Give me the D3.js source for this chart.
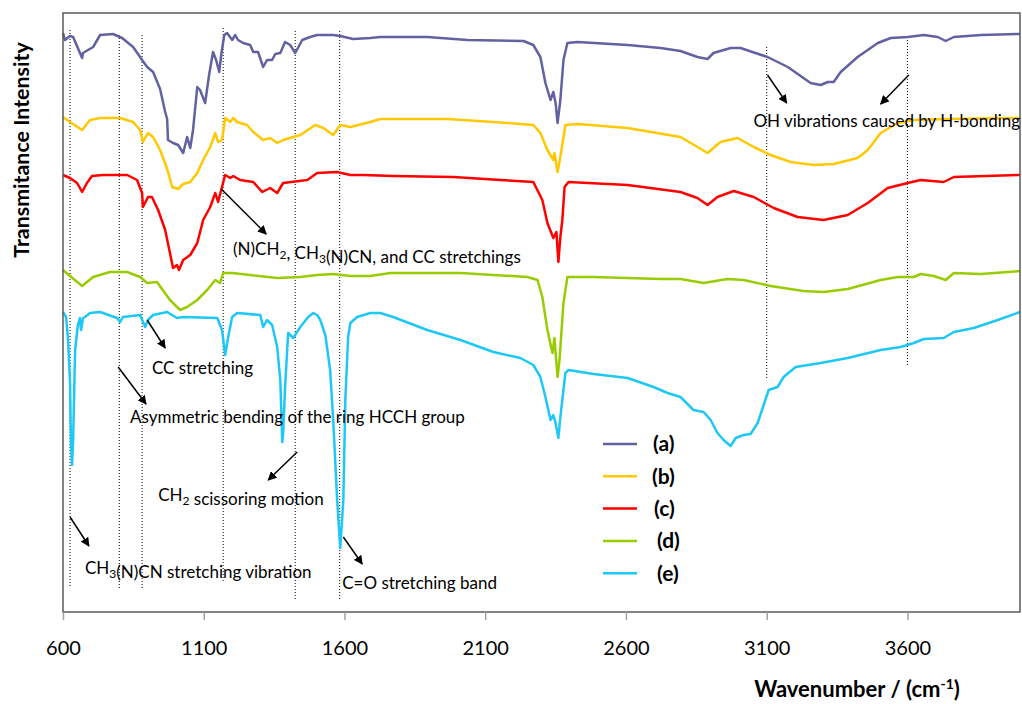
<!DOCTYPE html>
<html>
<head>
<meta charset="utf-8">
<title>FTIR spectra</title>
<style>
  body { margin: 0; background: #fff; }
  svg text { font-family: Lato, "Open Sans", sans-serif; fill: #000; }
</style>
</head>
<body>
<div id="chart"></div>
<script src="https://d3js.org/d3.v7.min.js"></script>
<script>
// spectra: [wavenumber (cm-1), transmittance (a.u., curves offset)]
const specA = [[600,579],[607,572],[625,576],[636,575],[668,554],[671,559],[707,565],[732,577],[778,578],[810,574],[849,565],[874,555],[881,552],[899,545],[920,540],[945,523],[963,500],[970,493],[973,472],[991,469],[1009,467],[1027,459],[1041,475],[1052,464],[1062,482],[1077,525],[1087,522],[1105,509],[1119,537],[1133,560],[1144,552],[1155,540],[1162,557],[1173,577],[1183,579],[1201,572],[1212,577],[1222,572],[1240,569],[1265,567],[1276,560],[1293,560],[1311,545],[1325,552],[1343,552],[1354,558],[1372,559],[1389,570],[1407,567],[1425,559],[1450,572],[1478,575],[1503,577],[1560,577],[1585,576],[1631,573],[1692,574],[1727,575],[1894,575],[2037,572],[2236,571],[2271,567],[2296,555],[2314,529],[2332,512],[2342,520],[2350,509],[2357,489],[2367,512],[2378,552],[2392,569],[2428,570],[2606,567],[2723,564],[2794,561],[2854,555],[2890,553],[2911,559],[2972,564],[3007,564],[3103,555],[3175,545],[3256,529],[3292,527],[3317,530],[3338,530],[3363,540],[3423,555],[3495,569],[3541,574],[3601,575],[3658,577],[3708,575],[3736,571],[3765,575],[3861,577],[4000,578]];

const specB = [[600,495],[625,490],[668,482],[696,492],[732,494],[803,494],[849,490],[874,482],[884,470],[902,479],[920,475],[945,462],[970,443],[988,425],[1009,423],[1027,428],[1052,430],[1077,439],[1098,452],[1123,465],[1141,479],[1151,470],[1165,472],[1176,494],[1194,490],[1205,494],[1219,490],[1254,487],[1276,480],[1311,472],[1336,474],[1361,469],[1382,472],[1443,477],[1496,487],[1525,484],[1560,477],[1585,487],[1621,485],[1692,490],[1727,493],[1966,493],[2129,490],[2271,487],[2296,479],[2321,462],[2342,452],[2346,459],[2357,440],[2367,455],[2385,487],[2428,488],[2606,484],[2794,475],[2854,465],[2890,459],[2936,470],[2997,474],[3054,465],[3114,457],[3185,450],[3267,447],[3338,448],[3423,454],[3459,462],[3505,479],[3566,489],[3623,492],[3743,493],[4000,494]];

const specC = [[600,437],[625,434],[650,429],[668,420],[685,429],[703,436],[742,437],[828,437],[863,432],[881,419],[884,405],[902,415],[916,415],[938,402],[963,382],[980,359],[991,344],[1005,347],[1012,342],[1027,352],[1052,357],[1077,369],[1098,392],[1123,405],[1141,419],[1151,410],[1162,422],[1176,437],[1194,434],[1205,436],[1229,432],[1276,430],[1308,420],[1336,424],[1361,419],[1382,429],[1468,432],[1503,439],[1574,440],[1621,437],[1667,437],[1773,436],[1987,435],[2154,432],[2271,430],[2303,412],[2321,389],[2342,374],[2353,380],[2360,350],[2367,375],[2374,392],[2382,425],[2396,430],[2606,427],[2794,420],[2854,414],[2890,407],[2925,415],[2983,421],[3054,415],[3125,404],[3210,395],[3302,392],[3388,397],[3459,409],[3530,424],[3601,429],[3647,432],[3729,430],[3765,435],[4000,437]];

const specD = [[600,342],[625,336],[668,326],[707,335],[767,340],[828,340],[874,335],[899,329],[934,330],[980,312],[1016,302],[1041,305],[1077,312],[1112,322],[1141,332],[1158,329],[1169,339],[1201,339],[1265,337],[1361,334],[1443,335],[1503,337],[1560,338],[1621,336],[1692,336],[1763,339],[2012,339],[2250,335],[2286,332],[2303,315],[2321,282],[2339,259],[2346,274],[2357,235],[2364,252],[2378,309],[2392,335],[2485,335],[2723,333],[2794,333],[2876,329],[2961,333],[3018,332],[3114,326],[3231,321],[3302,320],[3388,323],[3505,332],[3566,335],[3623,335],[3647,338],[3694,336],[3736,332],[3765,339],[3861,338],[4000,341]];

const specE = [[600,300],[611,295],[618,272],[625,229],[628,172],[632,147],[636,172],[643,262],[653,287],[660,294],[664,282],[671,294],[678,295],[696,299],[732,300],[792,294],[803,290],[813,295],[874,297],[892,285],[902,292],[920,297],[970,300],[1005,294],[1027,295],[1148,294],[1165,282],[1176,257],[1187,275],[1201,295],[1219,299],[1301,297],[1311,285],[1325,292],[1343,287],[1361,265],[1372,232],[1379,170],[1382,178],[1389,225],[1400,279],[1418,274],[1443,285],[1471,295],[1489,299],[1503,297],[1514,292],[1532,277],[1549,242],[1560,192],[1574,112],[1585,64],[1596,112],[1603,212],[1613,275],[1621,289],[1645,295],[1692,299],[1727,299],[1773,295],[1894,282],[2012,272],[2129,260],[2225,254],[2271,247],[2296,235],[2314,215],[2332,192],[2342,197],[2350,189],[2360,174],[2367,195],[2385,239],[2396,242],[2485,238],[2606,234],[2698,225],[2748,219],[2794,215],[2840,202],[2876,200],[2901,192],[2925,179],[2947,172],[2972,166],[2990,174],[3018,177],[3043,178],[3068,189],[3107,222],[3139,225],[3160,235],[3203,245],[3292,249],[3388,254],[3505,262],[3576,265],[3623,269],[3658,273],[3729,274],[3765,280],[3836,284],[3921,292],[4000,300]];

const seriesNames = ["(a)", "(b)", "(c)", "(d)", "(e)"];
const seriesColors = ["#6262A2", "#FFC800", "#FF0000", "#99CC00", "#1EC8F6"];
const xTicks = [600, 1100, 1600, 2100, 2600, 3100, 3600];

// dotted guide lines: wavenumber, top, bottom (a.u.)
const guideWn = [625, 800, 881, 1169, 1425, 1583, 3100, 3600];
const guideTop = [582, 577, 577, 584, 581, 581, 565, 575];
const guideBottom = [24, 24, 24, 30, 13, 13, 234, 245];

// band assignments: label, anchor (wn, a.u.), arrow from -> to
const noteText = ["OH vibrations caused by H-bonding", "(N)CH2, CH3(N)CN, and CC stretchings", "CC stretching",
  "Asymmetric bending of the ring HCCH group", "CH2 scissoring motion", "CH3(N)CN stretching vibration", "C=O stretching band"];
const noteWn = [3053, 1204, 916, 838, 938, 678, 1592];
const noteVal = [491, 363, 244, 195, 117, 44, 29];
const arrows = [[3103,537,3171,509],[3605,537,3505,508],[1162,423,1322,378],[899,292,963,264],
  [796,245,895,208],[1432,160,1329,132],[625,95,692,66],[1596,75,1663,48]];

const W = 1022, H = 704;
const svg = d3.select("#chart").append("svg").attr("width", W).attr("height", H);

const x = d3.scaleLinear().domain([600, 4000]).range([63, 1020]);
const y = d3.scaleLinear().domain([0, 599]).range([612, 13]);

svg.append("defs").append("marker")
    .attr("id", "arr").attr("viewBox", "0 0 10 10")
    .attr("refX", 9).attr("refY", 5)
    .attr("markerWidth", 9).attr("markerHeight", 9)
    .attr("markerUnits", "userSpaceOnUse")
    .attr("orient", "auto")
  .append("path").attr("d", "M0,0L10,5L0,10z").attr("fill", "#000");

// dotted guides
svg.append("g").selectAll("line").data(guideWn).join("line")
    .attr("x1", d => x(d)).attr("x2", d => x(d))
    .attr("y1", (d, i) => y(guideTop[i])).attr("y2", (d, i) => y(guideBottom[i]))
    .attr("stroke", "#000").attr("stroke-width", 1).attr("stroke-dasharray", "1,2");

// spectra
const line = d3.line().x(d => x(d[0])).y(d => y(d[1]));
const specs = [specA, specB, specC, specD, specE];
svg.append("g").selectAll("path").data(specs).join("path")
    .attr("d", line).attr("fill", "none")
    .attr("stroke", (d, i) => seriesColors[i]).attr("stroke-width", 2.5)
    .attr("stroke-linejoin", "round");

// frame
svg.append("rect").attr("x", 63).attr("y", 13).attr("width", 957).attr("height", 599)
    .attr("fill", "none").attr("stroke", "#5a5a5a").attr("stroke-width", 1.5);

// x axis
const xAxis = svg.append("g").attr("transform", "translate(0,612)")
    .call(d3.axisBottom(x).tickValues(xTicks).tickFormat(d3.format("d")).tickSize(8).tickPadding(21));
xAxis.select(".domain").remove();
xAxis.selectAll(".tick line").attr("stroke", "#a0a0a0").attr("stroke-width", 1.5);
xAxis.selectAll(".tick text").attr("font-size", 20).attr("font-family", "Lato, sans-serif").attr("fill", "#000");

// axis titles
const xt = svg.append("text").attr("x", 857).attr("y", 697).attr("text-anchor", "middle")
    .attr("font-size", 22).attr("font-weight", "bold");
xt.append("tspan").text("Wavenumber / (cm");
xt.append("tspan").attr("dy", -8).attr("font-size", 14).text("-1");
xt.append("tspan").attr("dy", 8).text(")");

svg.append("text").attr("transform", "translate(29,150) rotate(-90)").attr("text-anchor", "middle")
    .attr("font-size", 21.4).attr("font-weight", "bold").text("Transmitance Intensity");

// annotations
function richText(sel, s) {
  // digits after CH become subscripts
  const parts = s.split(/(CH[23])/);
  parts.forEach(p => {
    if (/^CH[23]$/.test(p)) {
      sel.append("tspan").text("CH");
      sel.append("tspan").attr("dy", 4).attr("font-size", 12).text(p[2]);
      sel.append("tspan").attr("dy", -4).text("");
    } else if (p) {
      sel.append("tspan").text(p);
    }
  });
}
const notes = svg.append("g");
noteText.forEach((t, i) => {
  const el = notes.append("text").attr("x", x(noteWn[i])).attr("y", y(noteVal[i]))
      .attr("dy", "0.35em").attr("font-size", 17);
  richText(el, t);
});
svg.append("g").selectAll("line").data(arrows).join("line")
    .attr("x1", d => x(d[0])).attr("y1", d => y(d[1]))
    .attr("x2", d => x(d[2])).attr("y2", d => y(d[3]))
    .attr("stroke", "#000").attr("stroke-width", 1.5).attr("marker-end", "url(#arr)");

// legend
const legend = svg.append("g").attr("transform", "translate(603,444)");
const li = legend.selectAll("g").data(seriesNames).join("g")
    .attr("transform", (d, i) => `translate(0,${i * 32.3})`);
li.append("line").attr("x1", 0).attr("x2", 34).attr("stroke", (d, i) => seriesColors[i]).attr("stroke-width", 2.5);
li.append("text").attr("x", (d, i) => [50, 49, 51, 54, 54][i]).attr("dy", "0.35em")
    .attr("font-size", 21).attr("font-weight", "bold").text(d => d);
</script>
</body>
</html>
